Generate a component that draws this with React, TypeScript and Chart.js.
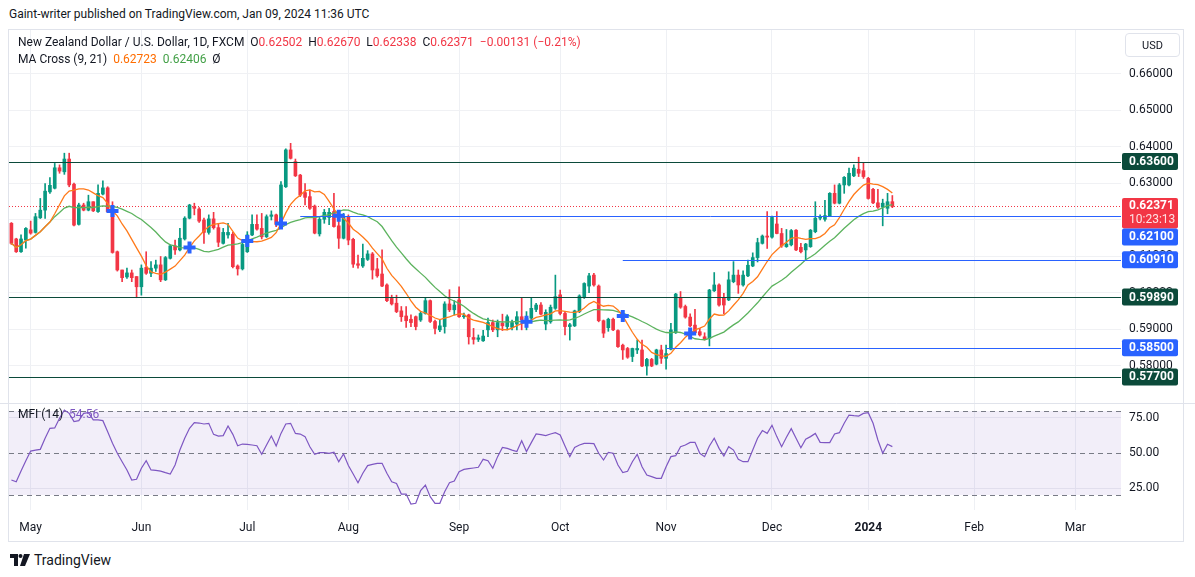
import React, { useEffect, useRef } from 'react';
import { Chart, registerables } from 'chart.js';

Chart.register(...registerables);

// ---------- axis / calendar ----------
const FIRST_DATE = '2023-04-25';
const TOTAL_SLOTS = 231;
const CLOSED_DATES = ['2023-12-25', '2024-01-01'];
const MONTH_TICK_DATES = ['2023-05-01', '2023-06-01', '2023-07-03', '2023-08-01', '2023-09-01', '2023-10-02', '2023-11-01', '2023-12-01', '2024-01-02', '2024-02-01', '2024-03-01'];
const MONTH_TICK_LABELS = ['May', 'Jun', 'Jul', 'Aug', 'Sep', 'Oct', 'Nov', 'Dec', '2024', 'Feb', 'Mar'];
const PRICE_TICKS = [0.58, 0.59, 0.6, 0.61, 0.62, 0.63, 0.64, 0.65, 0.66];
const MFI_TICKS = [25, 50, 75];

// ---------- NZDUSD daily OHLC ----------
const opens = [
  0.6191, 0.6148, 0.6113, 0.6145, 0.6173, 0.6166, 0.6206, 0.6227, 0.6277, 0.6287,
  0.6343, 0.6332, 0.6367, 0.6298, 0.6188, 0.6241, 0.6227, 0.6250, 0.6223, 0.6271,
  0.6288, 0.6230, 0.6113, 0.6063, 0.6044, 0.6055, 0.6045, 0.6017, 0.6070, 0.6054,
  0.6068, 0.6077, 0.6036, 0.6095, 0.6129, 0.6118, 0.6148, 0.6205, 0.6236, 0.6230,
  0.6200, 0.6166, 0.6203, 0.6179, 0.6136, 0.6159, 0.6161, 0.6074, 0.6066, 0.6113,
  0.6159, 0.6188, 0.6177, 0.6154, 0.6210, 0.6214, 0.6186, 0.6291, 0.6392, 0.6360,
  0.6323, 0.6275, 0.6264, 0.6238, 0.6162, 0.6202, 0.6207, 0.6223, 0.6184, 0.6150,
  0.6209, 0.6147, 0.6080, 0.6074, 0.6092, 0.6107, 0.6066, 0.6052, 0.6022, 0.5985,
  0.5972, 0.5951, 0.5937, 0.5928, 0.5935, 0.5926, 0.5944, 0.5979, 0.5922, 0.5899,
  0.5908, 0.5970, 0.5954, 0.5981, 0.5935, 0.5940, 0.5878, 0.5873, 0.5869, 0.5899,
  0.5919, 0.5899, 0.5917, 0.5908, 0.5906, 0.5915, 0.5935, 0.5919, 0.5931, 0.5955,
  0.5967, 0.5915, 0.5921, 0.5958, 0.5995, 0.5944, 0.5908, 0.5910, 0.5949, 0.5988,
  0.6019, 0.6049, 0.6019, 0.5924, 0.5905, 0.5928, 0.5897, 0.5857, 0.5848, 0.5826,
  0.5844, 0.5844, 0.5800, 0.5818, 0.5805, 0.5844, 0.5821, 0.5846, 0.5891, 0.5988,
  0.5963, 0.5934, 0.5912, 0.5894, 0.5880, 0.5876, 0.6006, 0.6022, 0.5988, 0.5981,
  0.6031, 0.6049, 0.6022, 0.6047, 0.6074, 0.6097, 0.6136, 0.6156, 0.6153, 0.6189,
  0.6163, 0.6127, 0.6132, 0.6172, 0.6125, 0.6118, 0.6127, 0.6168, 0.6205, 0.6202,
  0.6211, 0.6273, 0.6246, 0.6296, 0.6296, 0.6321, 0.6339, 0.6335, 0.6314, 0.6284,
  0.6247, 0.6235, 0.6232, 0.62502,
];
const highs = [
  0.6193, 0.6150, 0.6159, 0.6179, 0.6197, 0.6218, 0.6259, 0.6300, 0.6316, 0.6355,
  0.6351, 0.6383, 0.6383, 0.6301, 0.6246, 0.6246, 0.6268, 0.6250, 0.6296, 0.6307,
  0.6291, 0.6250, 0.6115, 0.6063, 0.6068, 0.6063, 0.6045, 0.6077, 0.6113, 0.6086,
  0.6090, 0.6100, 0.6100, 0.6132, 0.6145, 0.6177, 0.6209, 0.6243, 0.6246, 0.6234,
  0.6205, 0.6214, 0.6221, 0.6191, 0.6177, 0.6191, 0.6166, 0.6077, 0.6142, 0.6168,
  0.6214, 0.6214, 0.6218, 0.6214, 0.6225, 0.6216, 0.6305, 0.6395, 0.6410, 0.6367,
  0.6325, 0.6300, 0.6282, 0.6241, 0.6207, 0.6229, 0.6232, 0.6273, 0.6209, 0.6218,
  0.6214, 0.6150, 0.6104, 0.6134, 0.6116, 0.6111, 0.6095, 0.6118, 0.6025, 0.5994,
  0.5994, 0.5963, 0.5963, 0.5940, 0.5937, 0.5949, 0.5988, 0.5981, 0.5926, 0.5926,
  0.5976, 0.6009, 0.5979, 0.6017, 0.5945, 0.5942, 0.5903, 0.5885, 0.5898, 0.5931,
  0.5926, 0.5926, 0.5942, 0.5940, 0.5926, 0.5949, 0.5988, 0.5949, 0.5988, 0.5972,
  0.5974, 0.5954, 0.5967, 0.6049, 0.6008, 0.5949, 0.5917, 0.5953, 0.5995, 0.6028,
  0.6054, 0.6054, 0.6022, 0.5926, 0.5931, 0.5931, 0.5899, 0.5860, 0.5851, 0.5849,
  0.5871, 0.5871, 0.5821, 0.5821, 0.5846, 0.5857, 0.5857, 0.5917, 0.5999, 0.6004,
  0.5967, 0.5943, 0.5955, 0.5903, 0.5891, 0.6010, 0.6056, 0.6025, 0.5999, 0.6058,
  0.6086, 0.6063, 0.6061, 0.6090, 0.6110, 0.6150, 0.6159, 0.6223, 0.6211, 0.6223,
  0.6177, 0.6174, 0.6174, 0.6174, 0.6136, 0.6136, 0.6174, 0.6250, 0.6214, 0.6254,
  0.6275, 0.6296, 0.6300, 0.6319, 0.6342, 0.6351, 0.6372, 0.6357, 0.6317, 0.6287,
  0.6284, 0.6257, 0.6273, 0.62670,
];
const lows = [
  0.6133, 0.6111, 0.6111, 0.6123, 0.6161, 0.6164, 0.6204, 0.6204, 0.6273, 0.6285,
  0.6328, 0.6325, 0.6291, 0.6184, 0.6186, 0.6225, 0.6225, 0.6223, 0.6221, 0.6269,
  0.6221, 0.6109, 0.6060, 0.6031, 0.6040, 0.6031, 0.5987, 0.5994, 0.6051, 0.6045,
  0.6059, 0.6031, 0.6034, 0.6093, 0.6106, 0.6115, 0.6145, 0.6203, 0.6214, 0.6193,
  0.6136, 0.6161, 0.6175, 0.6127, 0.6134, 0.6150, 0.6069, 0.6049, 0.6063, 0.6111,
  0.6157, 0.6172, 0.6148, 0.6152, 0.6200, 0.6182, 0.6184, 0.6289, 0.6367, 0.6319,
  0.6264, 0.6241, 0.6229, 0.6162, 0.6156, 0.6191, 0.6187, 0.6180, 0.6122, 0.6148,
  0.6132, 0.6070, 0.6068, 0.6070, 0.6089, 0.6038, 0.6043, 0.6017, 0.5976, 0.5967,
  0.5946, 0.5922, 0.5906, 0.5908, 0.5899, 0.5922, 0.5942, 0.5919, 0.5888, 0.5894,
  0.5890, 0.5949, 0.5940, 0.5933, 0.5930, 0.5860, 0.5860, 0.5867, 0.5867, 0.5880,
  0.5894, 0.5880, 0.5897, 0.5899, 0.5899, 0.5899, 0.5899, 0.5899, 0.5924, 0.5949,
  0.5940, 0.5899, 0.5917, 0.5955, 0.5940, 0.5885, 0.5871, 0.5908, 0.5946, 0.5985,
  0.6001, 0.6019, 0.5921, 0.5878, 0.5895, 0.5897, 0.5851, 0.5818, 0.5821, 0.5812,
  0.5834, 0.5798, 0.5775, 0.5798, 0.5803, 0.5807, 0.5791, 0.5844, 0.5889, 0.5958,
  0.5931, 0.5908, 0.5889, 0.5882, 0.5871, 0.5855, 0.6004, 0.5964, 0.5943, 0.5979,
  0.6028, 0.5999, 0.6019, 0.6045, 0.6072, 0.6085, 0.6134, 0.6122, 0.6150, 0.6162,
  0.6125, 0.6125, 0.6129, 0.6116, 0.6110, 0.6091, 0.6125, 0.6165, 0.6200, 0.6197,
  0.6209, 0.6244, 0.6244, 0.6273, 0.6293, 0.6319, 0.6319, 0.6314, 0.6257, 0.6245,
  0.6232, 0.6184, 0.6217, 0.62338,
];
const closes = [
  0.6136, 0.6113, 0.6148, 0.6177, 0.6164, 0.6209, 0.6227, 0.6279, 0.6295, 0.6343,
  0.6334, 0.6367, 0.6296, 0.6186, 0.6241, 0.6227, 0.6250, 0.6225, 0.6273, 0.6288,
  0.6223, 0.6111, 0.6063, 0.6042, 0.6055, 0.6042, 0.6017, 0.6068, 0.6054, 0.6068,
  0.6077, 0.6036, 0.6097, 0.6129, 0.6118, 0.6150, 0.6205, 0.6241, 0.6232, 0.6197,
  0.6166, 0.6203, 0.6179, 0.6139, 0.6166, 0.6166, 0.6072, 0.6066, 0.6133, 0.6159,
  0.6188, 0.6175, 0.6154, 0.6209, 0.6214, 0.6188, 0.6296, 0.6392, 0.6369, 0.6321,
  0.6268, 0.6262, 0.6232, 0.6164, 0.6202, 0.6221, 0.6221, 0.6182, 0.6150, 0.6209,
  0.6145, 0.6079, 0.6076, 0.6095, 0.6107, 0.6063, 0.6047, 0.6019, 0.5979, 0.5970,
  0.5949, 0.5935, 0.5924, 0.5919, 0.5908, 0.5944, 0.5979, 0.5922, 0.5903, 0.5910,
  0.5970, 0.5954, 0.5967, 0.5935, 0.5937, 0.5880, 0.5873, 0.5877, 0.5882, 0.5919,
  0.5899, 0.5919, 0.5910, 0.5935, 0.5919, 0.5935, 0.5926, 0.5931, 0.5958, 0.5967,
  0.5942, 0.5947, 0.5961, 0.5990, 0.5944, 0.5908, 0.5913, 0.5951, 0.5992, 0.6026,
  0.6047, 0.6022, 0.5924, 0.5890, 0.5928, 0.5899, 0.5853, 0.5844, 0.5824, 0.5848,
  0.5848, 0.5800, 0.5818, 0.5800, 0.5844, 0.5821, 0.5834, 0.5899, 0.5997, 0.5961,
  0.5934, 0.5910, 0.5891, 0.5885, 0.5873, 0.6008, 0.6022, 0.5967, 0.5967, 0.6036,
  0.6049, 0.6022, 0.6049, 0.6076, 0.6097, 0.6138, 0.6156, 0.6153, 0.6207, 0.6163,
  0.6129, 0.6134, 0.6171, 0.6118, 0.6113, 0.6134, 0.6172, 0.6205, 0.6209, 0.6212,
  0.6273, 0.6246, 0.6296, 0.6317, 0.6328, 0.6342, 0.6328, 0.6319, 0.6259, 0.6247,
  0.6235, 0.6246, 0.6250, 0.62371,
];

// ---------- Money Flow Index (14) ----------
const mfi = [
  30.7, 29.5, 37.1, 44.5, 51.4, 52.1, 52.6, 60.5, 67.6, 67.9,
  74.8, 80.7, 78.3, 72.4, 73.1, 78.3, 78.8, 73.6, 73.6, 73.1,
  65.2, 56.9, 49.8, 43.8, 37.9, 30.7, 31.2, 39.1, 44.5, 37.9,
  37.6, 37.1, 36.0, 35.0, 41.4, 52.1, 60.5, 67.6, 71.7, 71.4,
  70.7, 71.2, 63.3, 62.1, 62.4, 69.3, 63.3, 55.2, 56.4, 56.2,
  55.7, 55.2, 49.1, 55.7, 62.1, 55.0, 64.0, 70.7, 71.2, 64.0,
  63.5, 61.7, 54.5, 49.0, 50.2, 50.2, 49.8, 50.5, 43.8, 49.3,
  41.0, 35.0, 28.8, 35.5, 41.0, 41.9, 42.6, 42.6, 35.5, 29.5,
  28.3, 20.7, 20.7, 13.6, 14.1, 23.1, 27.1, 18.8, 14.1, 14.1,
  22.4, 28.8, 30.0, 36.7, 38.3, 38.8, 39.3, 39.8, 45.5, 44.5,
  39.1, 47.4, 54.0, 53.3, 52.1, 51.0, 58.8, 51.0, 57.4, 63.6,
  63.1, 62.4, 63.6, 64.5, 62.9, 55.0, 47.4, 54.0, 55.7, 56.9,
  56.9, 56.7, 49.8, 45.0, 50.5, 49.8, 41.4, 36.0, 36.9, 43.8,
  49.0, 40.2, 34.3, 33.1, 31.9, 31.9, 40.2, 47.4, 48.1, 54.5,
  55.7, 57.6, 57.6, 49.8, 47.4, 55.0, 60.5, 53.3, 47.9, 54.5,
  52.1, 45.5, 43.8, 43.8, 52.1, 60.5, 66.0, 64.0, 69.8, 61.7,
  54.5, 61.2, 67.4, 60.5, 53.8, 59.8, 61.7, 64.0, 57.6, 57.4,
  57.4, 63.6, 64.5, 71.2, 77.1, 76.7, 76.4, 78.3, 78.8, 71.2,
  59.3, 49.8, 56.2, 54.56,
];

// ---------- drawn levels ----------
const DARK_LEVELS = [0.636, 0.5989, 0.577];
const BLUE_LEVELS = [0.621, 0.6091, 0.585];
const BLUE_LEVEL_FROM = ['2023-07-18', '2023-10-19', '2023-11-01'];
const LAST_PRICE = 0.62371;
const COUNTDOWN = '10:23:13';
const MA_FAST = 9;
const MA_SLOW = 21;

const UP = '#089981';
const DOWN = '#f23645';
const BLUE = '#2962ff';
const DARK = '#0b4a3a';
const FONT = 'Roboto, "Liberation Sans", Arial, sans-serif';
const TEXT = '#131722';

function buildDates(): string[] {
  const out: string[] = [];
  const d = new Date(FIRST_DATE + 'T00:00:00Z');
  while (out.length < TOTAL_SLOTS) {
    const wd = d.getUTCDay();
    const s = d.toISOString().slice(0, 10);
    if (wd !== 0 && wd !== 6 && !CLOSED_DATES.includes(s)) out.push(s);
    d.setUTCDate(d.getUTCDate() + 1);
  }
  return out;
}

function sma(src: number[], n: number): number[] {
  return src.map((_, i) => {
    const s = Math.max(0, i - n + 1);
    const w = src.slice(s, i + 1);
    return w.reduce((a, b) => a + b, 0) / w.length;
  });
}

function fmt(v: number) {
  return v.toFixed(5);
}

function noPad(s: any) {
  s.paddingTop = 0;
  s.paddingBottom = 0;
  s.paddingLeft = 0;
  s.paddingRight = 0;
}

export default function App() {
  const ref = useRef<HTMLCanvasElement | null>(null);

  useEffect(() => {
    if (!ref.current) return;
    const dates = buildDates();
    const monthIdx = new Map<number, string>();
    MONTH_TICK_DATES.forEach((d, i) => {
      const k = dates.indexOf(d);
      if (k >= 0) monthIdx.set(k, MONTH_TICK_LABELS[i]);
    });
    const n = closes.length;
    const isUp = closes.map((c, i) => c >= opens[i]);
    const colors = isUp.map((u) => (u ? UP : DOWN));
    const maF = sma(closes, MA_FAST);
    const maS = sma(closes, MA_SLOW);
    const crosses: (number | null)[] = maF.map(() => null);
    for (let i = MA_FAST; i < n; i++) {
      const a = Math.sign(maF[i - 1] - maS[i - 1]);
      const b = Math.sign(maF[i] - maS[i]);
      if (a !== 0 && b !== 0 && a !== b) crosses[i] = maF[i];
    }

    const overlay = {
      id: 'tvOverlay',
      beforeDatasetsDraw(chart: any) {
        const { ctx, chartArea } = chart;
        const y = chart.scales.y;
        const ym = chart.scales.yM;
        ctx.save();
        const t80 = ym.getPixelForValue(80);
        const t20 = ym.getPixelForValue(20);
        ctx.fillStyle = 'rgba(126,87,194,0.1)';
        ctx.fillRect(chartArea.left, t80, chartArea.right - chartArea.left, t20 - t80);
        ctx.strokeStyle = '#787b86';
        ctx.lineWidth = 1;
        ctx.setLineDash([5, 4]);
        [80, 50, 20].forEach((v) => {
          const py = Math.round(ym.getPixelForValue(v)) + 0.5;
          ctx.beginPath();
          ctx.moveTo(chartArea.left, py);
          ctx.lineTo(chartArea.right, py);
          ctx.stroke();
        });
        ctx.strokeStyle = DOWN;
        ctx.setLineDash([1, 2]);
        const lp = Math.round(y.getPixelForValue(LAST_PRICE)) + 0.5;
        ctx.beginPath();
        ctx.moveTo(chartArea.left, lp);
        ctx.lineTo(chartArea.right, lp);
        ctx.stroke();
        ctx.setLineDash([]);
        ctx.strokeStyle = '#e0e3eb';
        ctx.beginPath();
        ctx.moveTo(0, Math.round(ym.top) + 0.5);
        ctx.lineTo(chart.width, Math.round(ym.top) + 0.5);
        ctx.stroke();
        ctx.restore();
      },
      afterDatasetsDraw(chart: any) {
        const { ctx, chartArea } = chart;
        const y = chart.scales.y;
        const x = chart.scales.x;
        ctx.save();
        ctx.lineWidth = 1;
        DARK_LEVELS.forEach((p) => {
          const py = Math.round(y.getPixelForValue(p)) + 0.5;
          ctx.strokeStyle = DARK;
          ctx.beginPath();
          ctx.moveTo(chartArea.left, py);
          ctx.lineTo(chartArea.right, py);
          ctx.stroke();
        });
        BLUE_LEVELS.forEach((p, i) => {
          const py = Math.round(y.getPixelForValue(p)) + 0.5;
          const xi = dates.indexOf(BLUE_LEVEL_FROM[i]);
          ctx.strokeStyle = BLUE;
          ctx.beginPath();
          ctx.moveTo(x.getPixelForValue(xi), py);
          ctx.lineTo(chartArea.right, py);
          ctx.stroke();
        });
        ctx.restore();
      },
      afterDraw(chart: any) {
        const { ctx, chartArea } = chart;
        const y = chart.scales.y;
        ctx.save();
        const bx = chartArea.right + 1;
        const bw = 56;
        const bh = 17;
        ctx.font = `bold 12px ${FONT}`;
        ctx.textBaseline = 'middle';
        const lp = y.getPixelForValue(LAST_PRICE);
        const rTop = lp - 8.5;
        const rBot = lp + 22;
        ctx.fillStyle = DOWN;
        ctx.beginPath();
        (ctx as any).roundRect(bx, rTop, bw, rBot - rTop, 2);
        ctx.fill();
        ctx.fillStyle = '#ffffff';
        ctx.fillText(fmt(LAST_PRICE), bx + 7, lp);
        ctx.font = `12px ${FONT}`;
        ctx.fillStyle = 'rgba(255,255,255,0.85)';
        ctx.fillText(COUNTDOWN, bx + 7, lp + 14);
        ctx.font = `bold 12px ${FONT}`;
        const boxes = [
          ...DARK_LEVELS.map((p) => ({ p, c: DARK })),
          ...BLUE_LEVELS.map((p) => ({ p, c: BLUE })),
        ].map((b) => ({ ...b, cy: y.getPixelForValue(b.p) }));
        boxes.sort((a, b) => a.cy - b.cy);
        boxes.forEach((b) => {
          let cy = b.cy;
          if (cy + bh / 2 > rTop && cy - bh / 2 < rBot) cy = rBot + bh / 2;
          ctx.fillStyle = b.c;
          ctx.beginPath();
          (ctx as any).roundRect(bx, cy - bh / 2, bw, bh, 2);
          ctx.fill();
          ctx.fillStyle = '#ffffff';
          ctx.fillText(fmt(b.p), bx + 7, cy + 0.5);
        });
        ctx.restore();
      },
    };

    const chart = new Chart(ref.current, {
      type: 'bar',
      data: {
        labels: dates,
        datasets: [
          {
            type: 'line',
            label: 'cross',
            data: crosses as any,
            yAxisID: 'y',
            showLine: false,
            pointStyle: 'cross',
            pointRadius: 6,
            pointBorderWidth: 4,
            pointBorderColor: BLUE,
            pointBackgroundColor: BLUE,
            order: 0,
          } as any,
          {
            type: 'line',
            label: 'MA9',
            data: maF,
            yAxisID: 'y',
            borderColor: '#ff7a1a',
            borderWidth: 1.3,
            pointRadius: 0,
            tension: 0,
            order: 1,
          },
          {
            type: 'line',
            label: 'MA21',
            data: maS,
            yAxisID: 'y',
            borderColor: '#5cb35e',
            borderWidth: 1.3,
            pointRadius: 0,
            tension: 0,
            order: 1,
          },
          {
            label: 'body',
            data: opens.map((o, i) => [o, closes[i]]) as any,
            yAxisID: 'y',
            backgroundColor: colors,
            barThickness: 3,
            minBarLength: 1,
            grouped: false,
            order: 2,
          },
          {
            label: 'wick',
            data: lows.map((l, i) => [l, highs[i]]) as any,
            yAxisID: 'y',
            backgroundColor: colors,
            barThickness: 1,
            grouped: false,
            order: 3,
          },
          {
            type: 'line',
            label: 'MFI',
            data: mfi,
            yAxisID: 'yM',
            borderColor: '#7e57c2',
            borderWidth: 1.2,
            pointRadius: 0,
            tension: 0,
            order: 4,
          },
        ],
      },
      options: {
        responsive: false,
        animation: false,
        events: [],
        layout: { autoPadding: false, padding: { left: 9, right: 6, top: 0, bottom: 0 } },
        plugins: { legend: { display: false }, tooltip: { enabled: false } },
        scales: {
          x: {
            type: 'category',
            offset: true,
            border: { display: false },
            grid: {
              offset: false,
              drawTicks: false,
              color: (c: any) => (monthIdx.has(c.index) ? '#eef0f4' : 'rgba(0,0,0,0)'),
            },
            ticks: {
              autoSkip: false,
              maxRotation: 0,
              padding: 11,
              color: TEXT,
              font: (c: any) => ({
                family: FONT,
                size: 12,
                weight: monthIdx.get(c.index) === '2024' ? 'bold' : 'normal',
              }),
              callback: (_v: any, i: number) => monthIdx.get(i) ?? '',
            },
            afterFit: (s: any) => {
              s.height = 32;
              noPad(s);
            },
          },
          y: {
            type: 'linear',
            position: 'right',
            stack: 'panes',
            stackWeight: 3.486,
            min: 0.56986,
            max: 0.67205,
            border: { display: false },
            grid: { color: '#f0f1f4', drawTicks: false },
            afterBuildTicks: (s: any) => {
              s.ticks = PRICE_TICKS.map((v) => ({ value: v }));
            },
            ticks: {
              padding: 8,
              color: TEXT,
              font: { family: FONT, size: 12 },
              callback: (v: any) => Number(v).toFixed(5),
            },
            afterFit: (s: any) => {
              s.width = 68;
              noPad(s);
            },
          },
          yM: {
            type: 'linear',
            position: 'right',
            stack: 'panes',
            stackWeight: 1,
            min: 9.3,
            max: 85.7,
            border: { display: false },
            grid: {
              drawTicks: false,
              color: (c: any) => (c.tick && c.tick.value === 50 ? 'rgba(0,0,0,0)' : '#eceef2'),
            },
            afterBuildTicks: (s: any) => {
              s.ticks = MFI_TICKS.map((v) => ({ value: v }));
            },
            ticks: {
              padding: 8,
              color: TEXT,
              font: { family: FONT, size: 12 },
              callback: (v: any) => Number(v).toFixed(2),
            },
            afterFit: (s: any) => {
              s.width = 68;
              noPad(s);
            },
          },
        },
      },
      plugins: [overlay],
    } as any);
    return () => chart.destroy();
  }, []);

  const t: React.CSSProperties = { fontFamily: FONT, fontSize: 12, color: TEXT, whiteSpace: 'pre', position: 'absolute' };
  const red: React.CSSProperties = { color: DOWN };

  return (
    <div style={{ position: 'absolute', left: 0, top: 0, width: 1195, height: 577, background: '#ffffff', overflow: 'hidden' }}>
      <div style={{ ...t, left: 9, top: 7, fontSize: 12 }}>Gaint-writer published on TradingView.com, Jan 09, 2024 11:36 UTC</div>
      <div style={{ position: 'absolute', left: 8, top: 29, width: 1176, height: 513, border: '1px solid #e0e3eb', boxSizing: 'border-box' }} />
      <canvas ref={ref} width={1195} height={512} style={{ position: 'absolute', left: 0, top: 30, width: 1195, height: 512 }} />
      <div style={{ ...t, left: 18, top: 35 }}>
        {'New Zealand Dollar / U.S. Dollar, 1D, FXCM  O'}
        <span style={red}>0.62502</span>
        {'  H'}
        <span style={red}>0.62670</span>
        {'  L'}
        <span style={red}>0.62338</span>
        {'  C'}
        <span style={red}>0.62371</span>
        {'  '}
        <span style={red}>−0.00131 (−0.21%)</span>
      </div>
      <div style={{ ...t, left: 18, top: 52 }}>
        {'MA Cross (9, 21)  '}
        <span style={{ color: '#ff6d00' }}>0.62723</span>
        {'  '}
        <span style={{ color: '#43a047' }}>0.62406</span>
        {'  '}
        <span style={{ color: '#131722' }}>Ø</span>
      </div>
      <div style={{ ...t, left: 18, top: 407 }}>
        {'MFI (14)  '}
        <span style={{ color: '#7e57c2' }}>54.56</span>
      </div>
      <div style={{ position: 'absolute', left: 1125, top: 33, width: 55, height: 24, border: '1px solid #e0e3eb', borderRadius: 4, boxSizing: 'border-box', fontFamily: FONT, fontSize: 11, color: TEXT, display: 'flex', alignItems: 'center', justifyContent: 'center' }}>USD</div>
      <div style={{ position: 'absolute', left: 10, top: 552, display: 'flex', alignItems: 'center' }}>
        <svg width="20" height="12" viewBox="0 0 20 12">
          <path d="M0 0 H8 V12 H4 V4 H0 Z" fill="#131722" />
          <circle cx="10.5" cy="2" r="2" fill="#131722" />
          <path d="M14 0 H20 L15 12 H10 Z" fill="#131722" />
        </svg>
        <span style={{ fontFamily: FONT, fontSize: 14, color: TEXT, marginLeft: 4 }}>TradingView</span>
      </div>
    </div>
  );
}
